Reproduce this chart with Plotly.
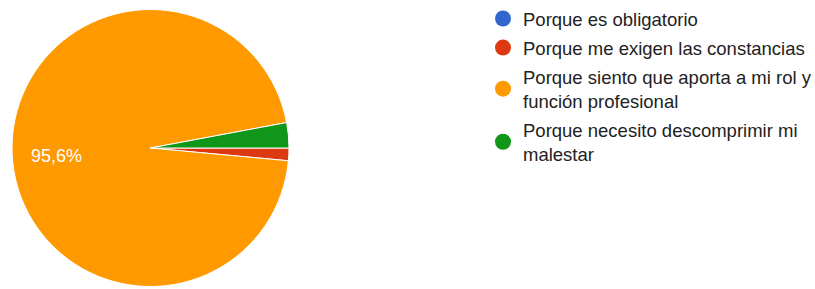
import plotly.graph_objects as go

labels = [
    "Porque es obligatorio",
    "Porque me exigen las constancias",
    "Porque siento que aporta a mi rol y<br>función profesional",
    "Porque necesito descomprimir mi<br>malestar",
]
values = [0, 1, 65, 2]
colors = ["#3366cc", "#dc3912", "#ff9900", "#109618"]

total = sum(values)
big = max(range(len(values)), key=lambda i: values[i])
big_label = f"{values[big] / total * 100:.1f}".replace(".", ",") + "%"

fig = go.Figure()
fig.add_trace(go.Pie(
    labels=labels,
    values=values,
    sort=False,
    direction="clockwise",
    rotation=90,
    marker=dict(colors=colors, line=dict(color="white", width=1)),
    textinfo="none",
    showlegend=False,
    domain=dict(x=[12 / 815, 289 / 815], y=[2.5 / 289, 279.5 / 289]),
    hoverinfo="label+percent",
))

for i, (lab, col) in enumerate(zip(labels, colors)):
    fig.add_trace(go.Scatter(
        x=[None], y=[None], mode="markers", name=lab,
        marker=dict(color=col, size=16, symbol="circle"),
        showlegend=True, legendgroup=f"g{i}",
    ))

fig.add_annotation(
    x=56 / 815, y=1 - 156 / 289, xref="paper", yref="paper",
    xanchor="center", yanchor="middle",
    text=big_label, showarrow=False,
    font=dict(color="white", size=18, family="Arial, Liberation Sans"),
)

fig.update_layout(
    width=815, height=289,
    margin=dict(l=0, r=0, t=0, b=0, autoexpand=False),
    paper_bgcolor="white", plot_bgcolor="white",
    xaxis=dict(visible=False), yaxis=dict(visible=False),
    font=dict(family="Arial, Liberation Sans", size=18.5, color="#222222"),
    legend=dict(
        x=483 / 815, y=1, xanchor="left", yanchor="top",
        font=dict(size=18.5, color="#222222"),
        bgcolor="rgba(0,0,0,0)",
        tracegroupgap=2,
        itemwidth=30,
    ),
)

fig.write_html(
    "out.html",
    config={"displayModeBar": False},
    post_script="document.body.style.margin='0';",
)
